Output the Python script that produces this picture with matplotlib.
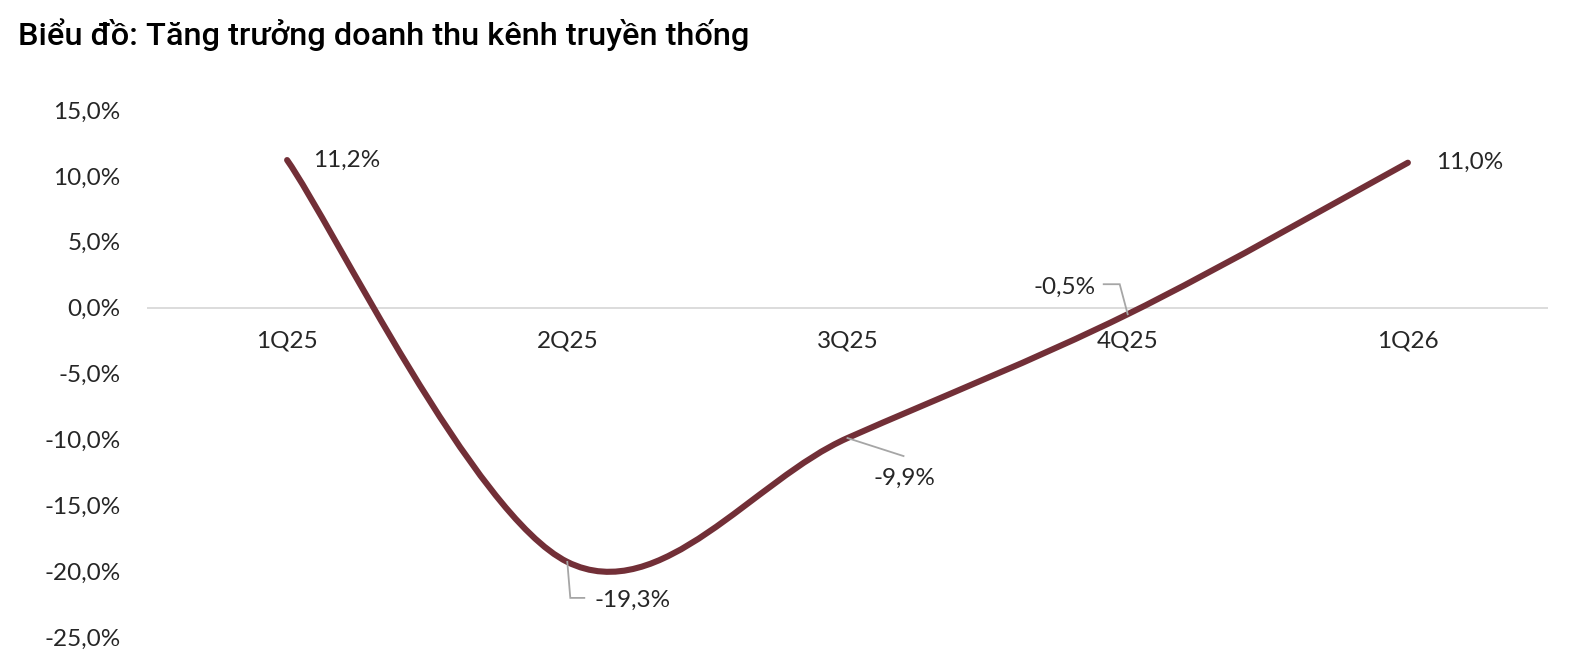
import numpy as np
import matplotlib
matplotlib.use("Agg")
import matplotlib.pyplot as plt
from matplotlib.path import Path
from matplotlib.patches import PathPatch

plt.rcParams['font.family'] = ['Lato', 'DejaVu Sans']

title = "Biểu đồ: Tăng trưởng doanh thu kênh truyền thống"
quarters = ["1Q25", "2Q25", "3Q25", "4Q25", "1Q26"]
growth = [11.2, -19.3, -9.9, -0.5, 11.0]
y_ticks = [15, 10, 5, 0, -5, -10, -15, -20, -25]

line_color = "#722F37"
leader_color = "#A6A6A6"
text_color = "#262626"
FS = 17.5

PX = 72 / 100  # pixels -> points at dpi 100


def fmt(v):
    return f"{v:.1f}".replace(".", ",") + "%"


def smooth_path(xs, ys):
    # Catmull-Rom as cubic bezier, like Excel's smoothed line
    pts = np.column_stack([xs, ys]).astype(float)
    ext = np.vstack([pts[0], pts, pts[-1]])
    verts = [pts[0]]
    codes = [Path.MOVETO]
    for i in range(1, len(ext) - 2):
        p0, p1, p2, p3 = ext[i - 1], ext[i], ext[i + 1], ext[i + 2]
        c1 = p1 + (p2 - p0) / 6
        c2 = p2 - (p3 - p1) / 6
        verts += [c1, c2, p2]
        codes += [Path.CURVE4] * 3
    return Path(verts, codes)


fig = plt.figure(figsize=(15.73, 6.69), dpi=100)
ax = fig.add_axes([147 / 1573, 1 - 637 / 669, 1401 / 1573, 527 / 669])
x = np.arange(len(quarters))

ax.set_xlim(-0.5, len(quarters) - 0.5)
ax.set_ylim(-25, 15)
for s in ax.spines.values():
    s.set_visible(False)
ax.axhline(0, color="#D9D9D9", lw=1.3, zorder=1)

ax.set_xticks([])
ax.set_yticks(y_ticks)
ax.set_yticklabels([fmt(v) for v in y_ticks])
ax.tick_params(axis='y', length=0, pad=19, labelsize=FS, labelcolor=text_color)

# category labels sit under the zero line
for xi, q in zip(x, quarters):
    ax.annotate(q, (xi, 0), xytext=(0, -33 * PX), textcoords='offset points',
                ha='center', va='center', fontsize=FS, color=text_color)

patch = PathPatch(smooth_path(x, growth), facecolor='none', edgecolor=line_color,
                  lw=4.4, capstyle='round', joinstyle='round', zorder=3)
ax.add_patch(patch)

# data labels: (text offset px, ha, leader path offsets px)
label_style = [
    ((26, 0), 'left', None),
    ((27, -38), 'left', [(0, 0), (3, -36), (17, -36)]),
    ((57, -40), 'center', [(0, 0), (56, -18)]),
    ((-32, 27), 'right', [(0, 0), (-8, 30), (-24, 30)]),
    ((28, 0), 'left', None),
]
for xi, v, (off, ha, lead) in zip(x, growth, label_style):
    ax.annotate(fmt(v), (xi, v), xytext=(off[0] * PX, off[1] * PX),
                textcoords='offset points', ha=ha, va='center',
                fontsize=FS, color=text_color, zorder=5)
    if lead:
        base = ax.transData.transform((xi, v))
        pts = np.array([base + np.array(p) for p in lead])
        ax.plot(pts[:, 0], pts[:, 1], color=leader_color, lw=1.3,
                transform=None, zorder=4, solid_joinstyle='miter')

fig.text(18 / 1573, 1 - 35 / 669, title, fontsize=23.4, fontweight='medium',
         family=['Roboto', 'DejaVu Sans'], va='center', ha='left', color='black')

fig.savefig("out.png", dpi=100)
